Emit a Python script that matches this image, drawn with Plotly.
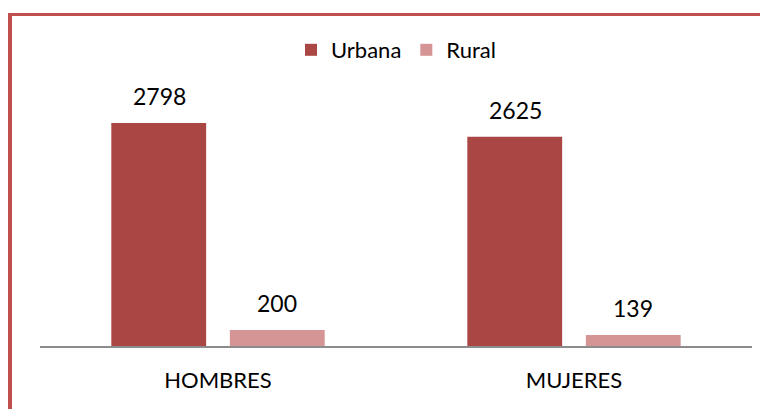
import plotly.graph_objects as go

categorias = ["HOMBRES", "MUJERES"]
urbana = [2798, 2625]
rural = [200, 139]

color_urbana = "#AA4643"
color_rural = "#D69595"
color_borde = "#C0504D"
fuente = "Lato"

# la página deja 8px de margen en el body, así que el lienzo es algo menor
W, H = 760, 401
ml, mr, mt, mb = 32, 16, 12, 63
pw = W - ml - mr
ph = H - mt - mb


def px_x(p):
    return (p - ml) / pw


def px_y(p):
    return (H - mb - p) / ph


fig = go.Figure()
fig.add_trace(go.Bar(x=categorias, y=urbana, name="Urbana",
                     marker=dict(color=color_urbana, line=dict(width=0))))
fig.add_trace(go.Bar(x=categorias, y=rural, name="Rural",
                     marker=dict(color=color_rural, line=dict(width=0))))

# etiquetas de valor
for i, cat in enumerate(categorias):
    for j, serie in enumerate([urbana, rural]):
        fig.add_annotation(x=cat, y=serie[i], text=str(serie[i]),
                           xshift=(-59 if j == 0 else 59), yshift=11,
                           yanchor="bottom", showarrow=False,
                           font=dict(family=fuente, size=23, color="black"))

# bordes rojos (izquierda y arriba)
fig.add_shape(type="rect", xref="paper", yref="paper",
              x0=px_x(0), x1=px_x(4), y0=px_y(H), y1=px_y(5),
              fillcolor=color_borde, line=dict(width=0))
fig.add_shape(type="rect", xref="paper", yref="paper",
              x0=px_x(0), x1=px_x(W), y0=px_y(8), y1=px_y(5),
              fillcolor=color_borde, line=dict(width=0))

fig.update_layout(
    width=W, height=H,
    margin=dict(l=ml, r=mr, t=mt, b=mb),
    paper_bgcolor="white", plot_bgcolor="white",
    barmode="group", bargap=0.334, bargroupgap=0.2,
    showlegend=True,
    legend=dict(orientation="h", x=0.5, xanchor="center",
                y=px_y(42), yanchor="middle",
                font=dict(family=fuente, size=22, color="black"),
                itemwidth=30, bgcolor="rgba(0,0,0,0)"),
    xaxis=dict(showline=True, linecolor="#8c8c8c", linewidth=1.5,
               ticks="", tickfont=dict(family=fuente, size=22, color="black"),
               ticklabelstandoff=14),
    yaxis=dict(range=[0, ph / 0.0797], visible=False, showgrid=False),
)

fig.write_html("out.html")
